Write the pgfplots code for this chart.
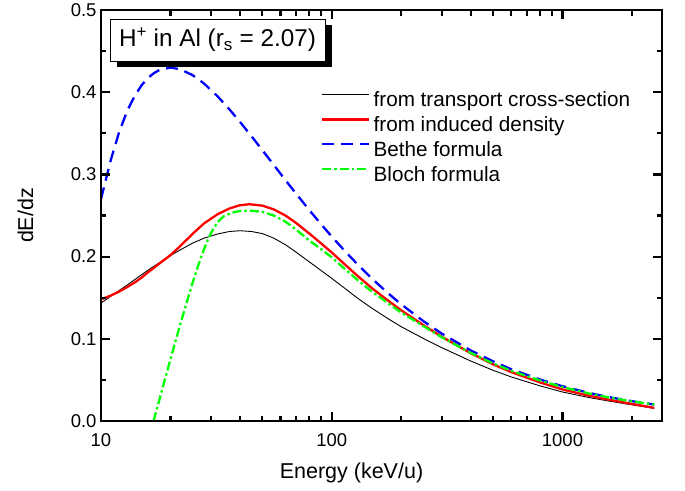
\documentclass[border=0pt]{standalone}
\usepackage{fontspec}
\setmainfont{Liberation Sans}
\usepackage{pgfplots}
\usepackage{pgfplotstable}
\pgfplotsset{compat=1.18}

\pgfplotstableread{
E y
10 0.1435
11 0.1515
12 0.1590
13 0.1655
14 0.1720
15 0.1780
16 0.1835
17 0.1885
18 0.1930
20 0.2012
22 0.2080
25 0.2165
28 0.2225
32 0.2275
36 0.2305
40 0.2315
45 0.2305
50 0.2280
56 0.2225
63 0.2145
70 0.2055
80 0.1935
90 0.1830
100 0.1735
115 0.1605
130 0.1490
150 0.1368
175 0.1247
200 0.1147
250 0.1003
300 0.0892
400 0.0730
500 0.0617
600 0.0536
800 0.0427
1000 0.0353
1300 0.0286
1600 0.0241
2000 0.0197
2500 0.0153
}\transport

\pgfplotstableread{
E y
10 0.1480
11 0.1525
12 0.1575
13 0.1630
14 0.1685
15 0.1745
16 0.1810
17 0.1865
18 0.1920
20 0.2018
22 0.2125
25 0.2280
28 0.2405
32 0.2515
36 0.2585
40 0.2625
44 0.2637
50 0.2620
56 0.2575
63 0.2500
70 0.2410
80 0.2280
90 0.2160
100 0.2050
115 0.1895
130 0.1760
150 0.1612
175 0.1467
200 0.1347
250 0.1165
300 0.1025
400 0.0825
500 0.0690
600 0.0595
800 0.0469
1000 0.0384
1300 0.0308
1600 0.0257
2000 0.0208
2500 0.0160
}\induced

\pgfplotstableread{
E y
10 0.2700
11 0.3165
12 0.3520
13 0.3775
14 0.3955
15 0.4085
16 0.4175
17 0.4234
18 0.4273
20 0.4299
22 0.4280
25 0.4206
28 0.4104
32 0.3950
36 0.3792
40 0.3640
45 0.3461
50 0.3296
56 0.3117
63 0.2931
70 0.2767
80 0.2565
90 0.2392
100 0.2244
115 0.2056
130 0.1900
150 0.1728
175 0.1557
200 0.1420
250 0.1213
300 0.1063
400 0.0859
500 0.0726
600 0.0630
800 0.0504
1000 0.0423
1300 0.0342
1600 0.0289
2000 0.0241
2500 0.0200
}\bethe

\pgfplotstableread{
E y
16.9 0.0000
18 0.0280
19 0.0525
20 0.0750
21 0.0965
22 0.1165
23 0.1350
24 0.1525
25 0.1690
26 0.1840
27 0.1975
28 0.2095
29 0.2200
30 0.2290
32 0.2420
34 0.2490
37 0.2535
40 0.2555
44 0.2560
50 0.2545
56 0.2500
63 0.2425
70 0.2330
80 0.2195
90 0.2090
100 0.1990
115 0.1840
130 0.1710
150 0.1570
175 0.1435
200 0.1320
250 0.1153
300 0.1018
400 0.0829
500 0.0701
600 0.0610
800 0.0492
1000 0.0413
1300 0.0336
1600 0.0285
2000 0.0239
2500 0.0200
}\bloch

\begin{document}
\begin{tikzpicture}
\begin{axis}[
  at={(0,0)}, anchor=south west,
  scale only axis, width=561pt, height=411pt,
  xmode=log, xmin=10, xmax=2700, ymin=0, ymax=0.5,
  xtick={10,100,1000}, xticklabels={10,100,1000},
  minor xtick={20,30,40,50,60,70,80,90,200,300,400,500,600,700,800,900,2000},
  ytick={0,0.1,0.2,0.3,0.4,0.5},
  minor ytick={0.05,0.15,0.25,0.35,0.45},
  axis line style={black, line width=2.8pt},
  major tick style={black, line width=2.2pt},
  minor tick style={black, line width=2.2pt},
  tick align=inside,
  xtick pos=both, ytick pos=both,
  major tick length=9pt, minor tick length=5.5pt,
  axis on top,
  yticklabel style={/pgf/number format/fixed, /pgf/number format/fixed zerofill, /pgf/number format/precision=1, /pgf/number format/assume math mode=true, xshift=-1pt},
  xticklabel style={yshift=-9pt},
  ticklabel style={font=\fontsize{18.5}{20}\selectfont},
  xlabel={Energy (keV/u)}, ylabel={dE/dz},
  label style={font=\fontsize{21.5}{24}\selectfont},
  xlabel style={at={(axis description cs:0.4465,-0.1387)}, anchor=base},
  ylabel style={at={(axis description cs:-0.1346,0.5)}, anchor=center},
  legend style={at={(axis description cs:0.387,0.806)}, anchor=north west,
    draw=none, fill=none, font=\fontsize{20.7}{24}\selectfont,
    row sep=4.7pt, column sep=3pt,
    nodes={inner sep=0pt, text height=15pt, text depth=5pt}},
  legend cell align=left,
  legend image code/.code={\draw[#1] (0pt,7pt) -- (47pt,7pt);},
]
\addplot[black, line width=0.9pt] table[x=E,y=y] {\transport};
\addlegendentry{from transport cross-section}
\addplot[red, line width=2.3pt] table[x=E,y=y] {\induced};
\addlegendentry{from induced density}
\addplot[blue, line width=2.3pt, dash pattern=on 12pt off 7pt] table[x=E,y=y] {\bethe};
\addlegendentry{Bethe formula}
\addplot[green, line width=2.3pt, dash pattern=on 9pt off 3pt on 2.5pt off 3pt] table[x=E,y=y] {\bloch};
\addlegendentry{Bloch formula}
\node[fill=black, minimum width=215pt, minimum height=42pt, inner sep=0pt] at (axis description cs:0.2202,0.9124) {};
\node[draw=black, line width=0.8pt, fill=white, minimum width=215pt, minimum height=42pt, inner sep=0pt, font=\fontsize{24.3}{26}\selectfont] at (axis description cs:0.2077,0.927) {H\textsuperscript{+} in Al (r\textsubscript{s} = 2.07)};
\end{axis}
\path (-101pt,-69pt) (584pt,421pt);
\end{tikzpicture}
\end{document}
